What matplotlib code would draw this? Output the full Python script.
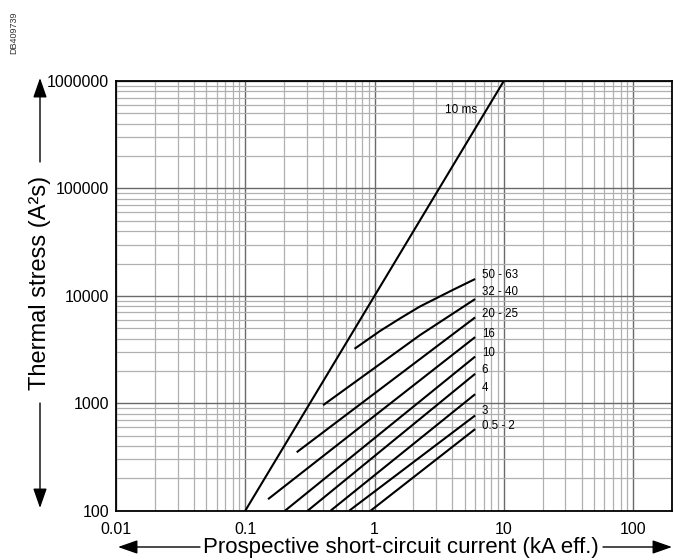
import matplotlib
matplotlib.use("Agg")
import matplotlib.pyplot as plt
from matplotlib.ticker import FixedLocator, FixedFormatter, LogLocator, NullFormatter

plt.rcParams['font.family'] = ['Liberation Sans', 'DejaVu Sans']

# ---- data ----
x_ticks = [0.01, 0.1, 1, 10, 100]
x_tick_labels = ["0.01", "0.1", "1", "10", "100"]
y_ticks = [100, 1000, 10000, 100000, 1000000]
y_tick_labels = ["100", "1000", "10000", "100000", "1000000"]

line10ms_x = [0.1, 10]
line10ms_y = [100, 1000000]
line10ms_label = "10 ms"

curve_labels = ["50 - 63", "32 - 40", "20 - 25", "16", "10", "6", "4", "3", "0.5 - 2"]
curve_x = [
    [0.70, 1.10, 1.57, 2.24, 4.0, 6.0],
    [0.40, 2.24, 6.0],
    [0.25, 6.0],
    [0.15, 6.0],
    [0.203, 6.0],
    [0.304, 6.0],
    [0.457, 6.0],
    [0.637, 6.0],
    [0.933, 6.0],
]
curve_y = [
    [3214, 4700, 6150, 7950, 11300, 14350],
    [960, 4300, 9340],
    [350, 6300],
    [128, 4130],
    [100, 2720],
    [100, 1880],
    [100, 1215],
    [100, 770],
    [100, 575],
]
label_y = [15740, 10850, 6800, 4400, 2930, 2046, 1383, 849, 615]
label_x = 6.75

# ---- figure ----
W, H = 681, 560
fig = plt.figure(figsize=(W / 100, H / 100), dpi=100)
ax = fig.add_axes([116 / W, 1 - 510.7 / H, (672 - 116) / W, (510.7 - 81) / H])
ax.set_xscale('log')
ax.set_yscale('log')
ax.set_xlim(0.01, 200)
ax.set_ylim(100, 1000000)

ax.xaxis.set_major_locator(FixedLocator(x_ticks))
ax.xaxis.set_major_formatter(FixedFormatter(x_tick_labels))
ax.yaxis.set_major_locator(FixedLocator(y_ticks))
ax.yaxis.set_major_formatter(FixedFormatter(y_tick_labels))
ax.xaxis.set_minor_locator(LogLocator(base=10, subs=range(2, 10), numticks=20))
ax.yaxis.set_minor_locator(LogLocator(base=10, subs=range(2, 10), numticks=20))
ax.xaxis.set_minor_formatter(NullFormatter())
ax.yaxis.set_minor_formatter(NullFormatter())

ax.grid(which='minor', color='#b0b0b0', linewidth=0.9)
ax.grid(which='major', color='#6a6a6a', linewidth=1.0)
ax.set_axisbelow(True)
ax.tick_params(which='both', length=0)
ax.tick_params(axis='x', pad=8, labelsize=11.5)
ax.tick_params(axis='y', pad=5, labelsize=11.5)
for s in ax.spines.values():
    s.set_linewidth(1.3)
    s.set_color('black')

ax.plot(line10ms_x, line10ms_y, color='black', linewidth=1.5, solid_capstyle='butt')
ax.text(3.5, 542000, line10ms_label, fontsize=8.5, ha='left', va='center')

for xs, ys, lab, ly in zip(curve_x, curve_y, curve_labels, label_y):
    ax.plot(xs, ys, color='black', linewidth=1.5, solid_capstyle='butt',
            solid_joinstyle='round')
    ax.text(label_x, ly, lab, fontsize=8.3, ha='left', va='center')

# ---- axis labels with arrows ----
fig.text(401 / W, 1 - 547 / H, "Prospective short-circuit current (kA eff.)",
         ha='center', va='center', fontsize=16)
fig.text(40 / W, 1 - 283 / H, "Thermal stress (A\u00b2s)", rotation=90,
         ha='center', va='center', fontsize=17)

arrow_kw = dict(arrowstyle='-|>,head_length=1.0,head_width=0.35', color='black',
                linewidth=1.0, shrinkA=0, shrinkB=0)
def farrow(x0, y0, x1, y1):
    fig.add_artist(matplotlib.patches.FancyArrowPatch(
        (x0 / W, 1 - y0 / H), (x1 / W, 1 - y1 / H), transform=fig.transFigure,
        mutation_scale=12, **arrow_kw))

farrow(200, 547, 118, 547)
farrow(603, 547, 672, 547)
farrow(40, 162, 40, 78)
farrow(40, 403, 40, 508)

fig.text(14 / W, 1 - 33 / H, "DB409739", rotation=90, ha='center', va='center',
         fontsize=6.5, color='#333333')

fig.savefig("out.png", dpi=100)
